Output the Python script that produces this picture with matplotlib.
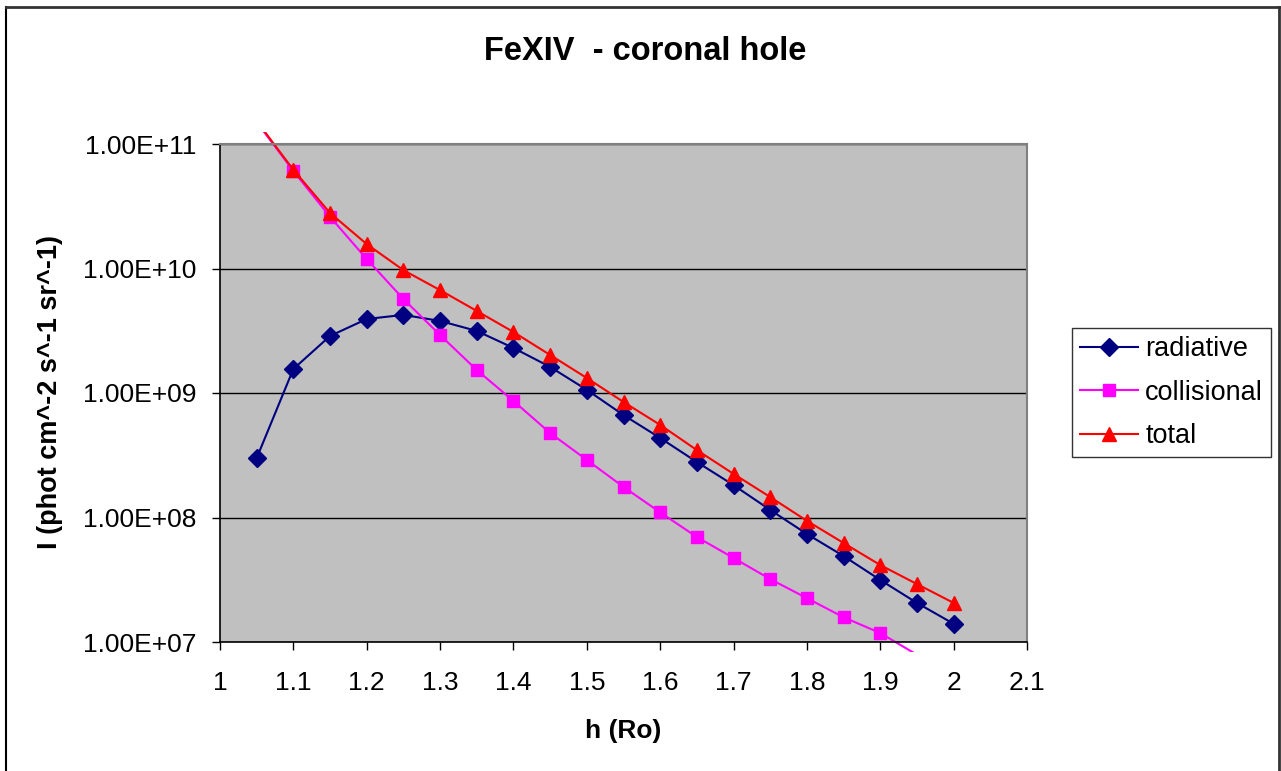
import numpy as np
import matplotlib.pyplot as plt
from matplotlib.transforms import Bbox
from matplotlib.lines import Line2D

plt.rcParams['font.family'] = ['Liberation Sans', 'DejaVu Sans']

# --- data ---
h = [1.05, 1.1, 1.15, 1.2, 1.25, 1.3, 1.35, 1.4, 1.45, 1.5, 1.55,
     1.6, 1.65, 1.7, 1.75, 1.8, 1.85, 1.9, 1.95, 2.0]

radiative = [3.0e8, 1.56e9, 2.87e9, 3.93e9, 4.24e9, 3.79e9, 3.15e9, 2.3e9,
             1.62e9, 1.06e9, 6.65e8, 4.35e8, 2.79e8, 1.82e8, 1.15e8, 7.37e7,
             4.9e7, 3.15e7, 2.06e7, 1.4e7]

collisional = [1.5e11, 6.07e10, 2.6e10, 1.19e10, 5.69e9, 2.92e9, 1.53e9,
               8.63e8, 4.77e8, 2.9e8, 1.76e8, 1.1e8, 6.97e7, 4.73e7, 3.2e7,
               2.25e7, 1.58e7, 1.18e7, 7.9e6, 5.5e6]

total = [1.53e11, 6.2e10, 2.79e10, 1.57e10, 9.7e9, 6.7e9, 4.56e9, 3.09e9,
         2.02e9, 1.32e9, 8.47e8, 5.54e8, 3.48e8, 2.24e8, 1.46e8, 9.4e7,
         6.24e7, 4.15e7, 2.92e7, 2.06e7]

x_ticks = [1, 1.1, 1.2, 1.3, 1.4, 1.5, 1.6, 1.7, 1.8, 1.9, 2, 2.1]
x_labels = ['1', '1.1', '1.2', '1.3', '1.4', '1.5', '1.6', '1.7', '1.8',
            '1.9', '2', '2.1']
y_ticks = [1e7, 1e8, 1e9, 1e10, 1e11]
y_labels = ['1.00E+07', '1.00E+08', '1.00E+09', '1.00E+10', '1.00E+11']

W, H = 1281, 771
fig = plt.figure(figsize=(W / 100, H / 100), dpi=100)

# plot area in pixels: x 220..1027, y 144..642
ax = fig.add_axes([220 / W, (H - 642) / H, 807 / W, 498 / H])
ax.set_facecolor('#c0c0c0')
ax.set_yscale('log')
ax.set_xlim(1, 2.1)
ax.set_ylim(1e7, 1e11)

ax.set_xticks(x_ticks)
ax.set_xticklabels(x_labels)
ax.set_yticks(y_ticks)
ax.set_yticklabels(y_labels)
ax.yaxis.set_minor_locator(plt.NullLocator())
ax.tick_params(axis='both', direction='out', length=6, width=1,
               labelsize=19, colors='black')
ax.tick_params(axis='x', pad=15)
ax.tick_params(axis='y', pad=11)
ax.grid(axis='y', color='black', linewidth=1)
ax.set_axisbelow(True)

for side in ['left', 'bottom']:
    ax.spines[side].set_color('black')
    ax.spines[side].set_linewidth(1.2)
for side in ['top', 'right']:
    ax.spines[side].set_color('#808080')
    ax.spines[side].set_linewidth(1.5)

# Excel lets the lines run a little past the plot area
clip = Bbox.from_extents(220, H - 652, 1027, H - 132)

series = [
    (radiative, 'radiative', '#000080', 'D', 9.5),
    (collisional, 'collisional', '#ff00ff', 's', 8.5),
    (total, 'total', '#ff0000', '^', 10),
]
handles = []
for vals, name, col, mk, ms in series:
    ln, = ax.plot(h, vals, color=col, linewidth=1.5, label=name)
    ln.set_clip_box(clip)
    # markers only where the point is inside the axis range
    xs = [x for x, v in zip(h, vals) if 1e7 <= v <= 1e11]
    vs = [v for v in vals if 1e7 <= v <= 1e11]
    ax.plot(xs, vs, linestyle='none', marker=mk, markersize=ms,
            color=col, markeredgecolor=col)
    handles.append(Line2D([], [], color=col, linewidth=1.5, marker=mk,
                          markersize=ms, markeredgecolor=col))

fig.text(645 / W, 1 - 52 / H, 'FeXIV  - coronal hole', ha='center',
         va='center', fontsize=23.5, fontweight='bold')
fig.text(623 / W, 1 - 731 / H, 'h (Ro)', ha='center', va='center',
         fontsize=19, fontweight='bold')
fig.text(50 / W, 1 - 392 / H, 'I (phot cm^-2 s^-1 sr^-1)', ha='center',
         va='center', rotation=90, fontsize=19.5, fontweight='bold')

leg = fig.legend(handles, ['radiative', 'collisional', 'total'],
                 loc='upper left',
                 bbox_to_anchor=(1072 / W, 1 - 328 / H),
                 fontsize=19.5, frameon=True, fancybox=False,
                 edgecolor='black', handlelength=2.15, handletextpad=0.25,
                 borderpad=0.3, labelspacing=0.65, borderaxespad=0)
leg.get_frame().set_linewidth(1)

# chart border (open at the bottom edge of the image)
fig.add_artist(Line2D([6 / W, 6 / W], [0, 1 - 7 / H], color='black',
                      linewidth=1.5, transform=fig.transFigure))
fig.add_artist(Line2D([6 / W, 1279 / W], [1 - 7 / H, 1 - 7 / H],
                      color='#333333', linewidth=2, transform=fig.transFigure))
fig.add_artist(Line2D([1279 / W, 1279 / W], [0, 1 - 7 / H], color='#333333',
                      linewidth=2, transform=fig.transFigure))

fig.savefig('out.png', dpi=100)
